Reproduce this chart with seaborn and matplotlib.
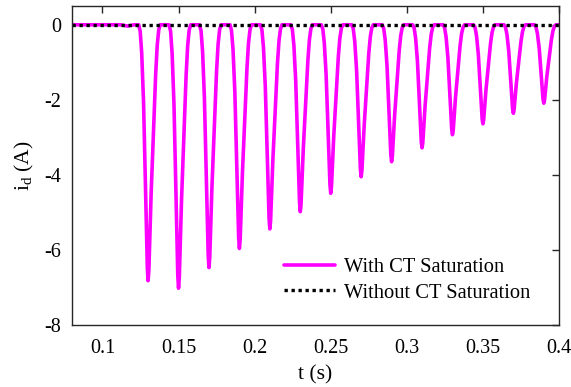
import numpy as np
import pandas as pd
import matplotlib
matplotlib.use("Agg")
import matplotlib.pyplot as plt
import seaborn as sns

# ---- data ----
dip_times = [0.13, 0.15, 0.17, 0.19, 0.21, 0.23, 0.25, 0.27, 0.29, 0.31, 0.33, 0.35, 0.37, 0.39]
dip_depths = [-6.82, -7.02, -6.47, -5.96, -5.44, -4.98, -4.49, -4.05, -3.65, -3.28, -2.93, -2.64, -2.36, -2.09]
# dip profile read from one cycle: time offset from the minimum (s) and fraction of depth
profile_offsets = [-0.0062, -0.0052, -0.0042, -0.0030, -0.0020, -0.0010, -0.0005, 0.0,
                   0.0005, 0.0010, 0.0020, 0.0030, 0.0040, 0.0050, 0.0060, 0.0070, 0.0080]
profile_fracs = [0.0, 0.025, 0.11, 0.30, 0.56, 0.82, 0.95, 1.0,
                 0.96, 0.86, 0.66, 0.50, 0.34, 0.19, 0.08, 0.02, 0.0]
# pre-fault segment (small ripple before saturation)
pre_t = [0.08, 0.112, 0.1165, 0.121]
pre_i = [0.0, 0.0, -0.035, 0.0]
end_t = [0.40]
end_i = [0.0]
ref_t = [0.08, 0.40]
ref_i = [0.0, 0.0]

# ---- build the saturated-CT series from the read points ----
t_sat = list(pre_t)
i_sat = list(pre_i)
for tc, d in zip(dip_times, dip_depths):
    for o, f in zip(profile_offsets, profile_fracs):
        t_sat.append(round(tc + o, 6))
        i_sat.append(d * f)
t_sat += end_t
i_sat += end_i
df_sat = pd.DataFrame({"t": t_sat, "i": i_sat})
df_ref = pd.DataFrame({"t": ref_t, "i": ref_i})

sns.set_theme(style="white")
plt.rcParams['font.family'] = ['Liberation Serif', 'DejaVu Serif']
plt.rcParams['mathtext.fontset'] = 'custom'
plt.rcParams['mathtext.rm'] = 'Liberation Serif'
plt.rcParams['mathtext.it'] = 'Liberation Serif'
plt.rcParams['axes.unicode_minus'] = False

fig = plt.figure(figsize=(5.71, 3.87), dpi=100)
ax = fig.add_axes([72 / 571, 1 - 325 / 387, (559 - 72) / 571, (325 - 6) / 387])

sns.lineplot(data=df_sat, x="t", y="i", ax=ax, color="#FF00FF", linewidth=2.6,
             estimator=None, sort=False, label="With CT Saturation")
sns.lineplot(data=df_ref, x="t", y="i", ax=ax, color="black", linewidth=2.4,
             linestyle=(0, (1, 1.1)), estimator=None, label="Without CT Saturation")

ax.set_xlim(0.08, 0.40)
ax.set_ylim(-8, 0.5)
ax.set_xticks([0.1, 0.15, 0.2, 0.25, 0.3, 0.35, 0.4])
ax.set_xticklabels(["0.1", "0.15", "0.2", "0.25", "0.3", "0.35", "0.4"])
ax.set_yticks([0, -2, -4, -6, -8])
ax.set_yticklabels(["0", "-2", "-4", "-6", "-8"])
ax.tick_params(direction="in", length=5, width=1, top=True, right=True,
               labelsize=14.5, colors="#262626", labelcolor="black")
ax.tick_params(axis="x", pad=10)
ax.tick_params(axis="y", pad=8)
for s in ax.spines.values():
    s.set_color("#262626")
    s.set_linewidth(1.0)

ax.set_xlabel("t (s)", fontsize=15.5, color="black", labelpad=5)
ax.set_ylabel(r"i$_{\rm d}$ (A)", fontsize=15.5, color="black", labelpad=6)

leg = ax.legend(loc="lower right", bbox_to_anchor=(0.97, 0.025), frameon=False,
                fontsize=14.8, handlelength=2.5, handletextpad=0.4, labelspacing=0.3,
                borderpad=0.2)
for txt in leg.get_texts():
    txt.set_color("black")

fig.savefig("out.png", dpi=100, facecolor="white")
